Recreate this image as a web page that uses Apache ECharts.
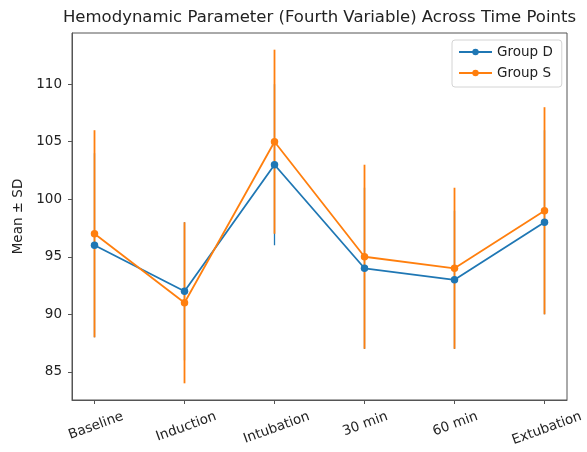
<!DOCTYPE html>
<html>
<head>
<meta charset="utf-8">
<script src="https://cdn.jsdelivr.net/npm/echarts@6/dist/echarts.min.js"></script>
<style>
html,body{margin:0;padding:0;background:#fff;}
#chart{width:587px;height:452px;}
</style>
</head>
<body>
<div id="chart"></div>
<script>
// ---- data ----
const categories = ['Baseline', 'Induction', 'Intubation', '30 min', '60 min', 'Extubation'];
const groupDMean = [96, 92, 103, 94, 93, 98];
const groupDSD   = [8, 6, 7, 7, 6, 8];
const groupSMean = [97, 91, 105, 95, 94, 99];
const groupSSD   = [9, 7, 8, 8, 7, 9];
const yTickValues = [85, 90, 95, 100, 105, 110];
const xTickValues = [0, 1, 2, 3, 4, 5];

const FONT = '"DejaVu Sans", sans-serif';
const BLUE = '#1f77b4';
const ORANGE = '#ff7f0e';
const AXIS = '#555';
const TICKFS = 13.5;

// y range like matplotlib autoscale (5% margin around error-bar extent)
const lows = groupDMean.map((m, i) => m - groupDSD[i]).concat(groupSMean.map((m, i) => m - groupSSD[i]));
const highs = groupDMean.map((m, i) => m + groupDSD[i]).concat(groupSMean.map((m, i) => m + groupSSD[i]));
const yLo = Math.min(...lows), yHi = Math.max(...highs);
const yPad = (yHi - yLo) * 0.05;
const xPad = (categories.length - 1) * 0.05;

// per-label offset so rotated labels hang centred under their tick (matplotlib style)
const cvs = document.createElement('canvas').getContext('2d');
cvs.font = TICKFS + 'px "DejaVu Sans"';
const rad = 20 * Math.PI / 180;
const baseMargin = 22;
const rich = {};
categories.forEach((c, i) => {
  const w = cvs.measureText(c).width;
  const off = 9 + (w * Math.sin(rad) + 15 * Math.cos(rad)) / 2;
  const p = Math.max(0, 2 * (off - baseMargin) / Math.cos(rad));
  rich['l' + i] = { padding: [p, 0, 0, 0], fontFamily: FONT, fontSize: TICKFS, color: '#222' };
});

function errSeries(means, sds, color, z, width) {
  return {
    type: 'custom',
    z: z,
    silent: true,
    encode: { x: 0, y: [1, 2] },
    data: means.map((m, i) => [i, m - sds[i], m + sds[i]]),
    renderItem: function (params, api) {
      const p1 = api.coord([api.value(0), api.value(1)]);
      const p2 = api.coord([api.value(0), api.value(2)]);
      return {
        type: 'line',
        shape: { x1: p1[0], y1: p1[1], x2: p2[0], y2: p2[1] },
        style: { stroke: color, lineWidth: width }
      };
    }
  };
}

function lineSeries(name, means, color, z) {
  return {
    name: name,
    type: 'line',
    z: z,
    data: means.map((m, i) => [i, m]),
    symbol: 'circle',
    symbolSize: 7.5,
    lineStyle: { color: color, width: 1.8 },
    itemStyle: { color: color },
    emphasis: { disabled: true }
  };
}

const chart = echarts.init(document.getElementById('chart'), null, { renderer: 'canvas' });
chart.setOption({
  animation: false,
  backgroundColor: '#fff',
  textStyle: { fontFamily: FONT },
  title: {
    text: 'Hemodynamic Parameter (Fourth Variable) Across Time Points',
    left: 319.5,
    textAlign: 'center',
    top: 9,
    padding: 0,
    textStyle: { fontFamily: FONT, fontSize: 16.5, fontWeight: 'normal', color: '#222' }
  },
  legend: {
    data: ['Group D', 'Group S'],
    orient: 'vertical',
    left: 452,
    top: 40,
    padding: [5, 9, 7, 6],
    itemWidth: 33,
    itemHeight: 8,
    itemGap: 7,
    borderColor: '#d4d4d4',
    borderWidth: 1,
    borderRadius: 3,
    backgroundColor: '#fff',
    textStyle: { fontFamily: FONT, fontSize: TICKFS, color: '#222' }
  },
  grid: {
    left: 72, right: 20, top: 33, bottom: 52,
    show: true, borderColor: AXIS, borderWidth: 1, backgroundColor: 'transparent'
  },
  xAxis: {
    type: 'value',
    min: -xPad,
    max: categories.length - 1 + xPad,
    splitLine: { show: false },
    axisLine: { show: true, onZero: false, lineStyle: { color: AXIS, width: 1 } },
    axisTick: { show: true, length: 4, customValues: xTickValues, lineStyle: { color: AXIS } },
    axisLabel: {
      customValues: xTickValues,
      rotate: 20,
      align: 'center',
      verticalAlign: 'middle',
      margin: baseMargin,
      fontFamily: FONT,
      fontSize: TICKFS,
      color: '#222',
      formatter: function (v) {
        const i = Math.round(v);
        return '{l' + i + '|' + categories[i] + '}';
      },
      rich: rich
    }
  },
  yAxis: {
    type: 'value',
    min: yLo - yPad,
    max: yHi + yPad,
    name: 'Mean ± SD',
    nameLocation: 'middle',
    nameGap: 42,
    nameTextStyle: { fontFamily: FONT, fontSize: TICKFS, color: '#222' },
    splitLine: { show: false },
    axisLine: { show: true, onZero: false, lineStyle: { color: AXIS, width: 1 } },
    axisTick: { show: true, length: 4, customValues: yTickValues, lineStyle: { color: AXIS } },
    axisLabel: {
      customValues: yTickValues,
      margin: 10,
      fontFamily: FONT,
      fontSize: TICKFS,
      color: '#222'
    }
  },
  series: [
    errSeries(groupDMean, groupDSD, BLUE, 2, 1.3),
    errSeries(groupSMean, groupSSD, ORANGE, 3, 1.8),
    lineSeries('Group D', groupDMean, BLUE, 4),
    lineSeries('Group S', groupSMean, ORANGE, 5)
  ]
});
</script>
</body>
</html>
